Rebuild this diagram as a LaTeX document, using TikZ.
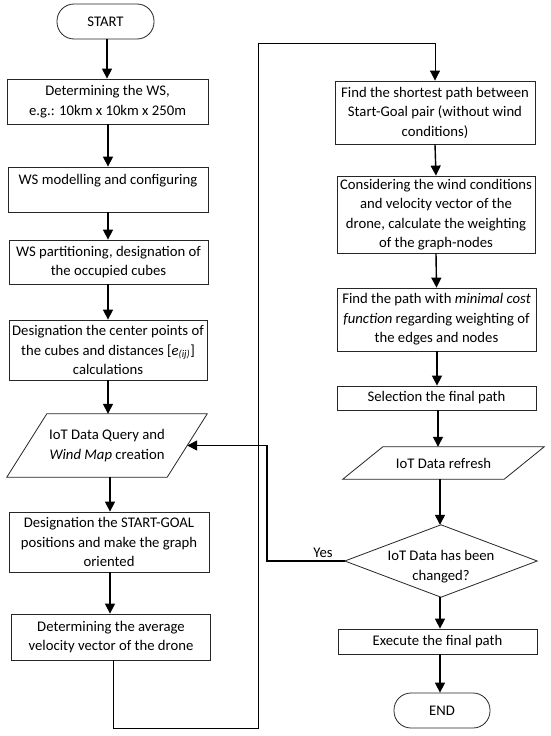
\documentclass[tikz,border=0pt]{standalone}
\usepackage{fontspec}
\setmainfont{Carlito}
\usetikzlibrary{arrows.meta,calc}
\begin{document}
\begin{tikzpicture}[x=1pt,y=-1pt,
  txt/.style={inner sep=0pt, align=center, font=\fontsize{14.7}{19.5}\selectfont},
  box/.style={txt, draw=black!85, line width=0.8pt, rectangle},
  term/.style={box, rounded corners=17pt},
  shapeonly/.style={inner sep=0pt, rectangle},
  arr/.style={line width=1.4pt, -{Triangle[length=10pt,width=10pt]}},
  thinline/.style={line width=0.8pt, draw=black!85},
  loopline/.style={line width=0.8pt}
]
\useasboundingbox (0,0) rectangle (550,736);
\fill[white] (0,0) rectangle (550,736);

% left column
\node[term, minimum width=97pt, minimum height=35pt] (start) at (105.5,21.5) {START};
\node[box, minimum width=201pt, minimum height=45pt] (b1) at (107.5,101.5) {Determining the WS,\\e.g.: 10km x 10km x 250m};
\node[box, minimum width=200pt, minimum height=45pt] (b2) at (108,189.5) {WS modelling and configuring\\\mbox{}};
\node[box, minimum width=199pt, minimum height=44pt] (b3) at (108.5,262) {WS partitioning, designation of\\the occupied cubes};
\node[box, minimum width=198pt, minimum height=60pt] (b4) at (108,350) {Designation the center points of\\the cubes and distances [\textit{e}\textsubscript{\textit{(ij)}}]\\calculations};
\node[txt, shapeonly, minimum width=160pt, minimum height=63pt] (pL) at (107,445.5) {IoT Data Query and\\\textit{Wind Map} creation};
\draw[thinline] ($(pL.north west)+(20,0)$) -- ($(pL.north east)+(20,0)$) -- ($(pL.south east)+(-20,0)$) -- ($(pL.south west)+(-20,0)$) -- cycle;
\node[box, minimum width=200pt, minimum height=60pt] (b5) at (109,542) {Designation the START-GOAL\\positions and make the graph\\oriented};
\node[box, minimum width=199pt, minimum height=46pt] (b6) at (111,637) {Determining the average\\velocity vector of the drone};

% right column
\node[box, minimum width=200pt, minimum height=63pt] (r1) at (435,112.5) {Find the shortest path between\\Start-Goal pair (without wind\\conditions)};
\node[box, minimum width=198pt, minimum height=77pt] (r2) at (436,214.5) {Considering the wind conditions\\and velocity vector of the\\drone, calculate the weighting\\of the graph-nodes};
\node[box, minimum width=199pt, minimum height=63pt] (r3) at (436.5,319.5) {Find the path with \textit{minimal cost}\\\textit{function} regarding weighting of\\the edges and nodes};
\node[box, minimum width=199pt, minimum height=24pt] (r4) at (436.5,398) {Selection the final path};
\node[txt, shapeonly, minimum width=161pt, minimum height=32pt] (pR) at (443.5,463) {IoT Data refresh};
\draw[thinline] ($(pR.north west)+(20,0)$) -- ($(pR.north east)+(20,0)$) -- ($(pR.south east)+(-20,0)$) -- ($(pR.south west)+(-20,0)$) -- cycle;
\node[shapeonly, minimum width=192pt, minimum height=72pt] (dia) at (441,561) {};
\draw[thinline] (dia.north) -- (dia.east) -- (dia.south) -- (dia.west) -- cycle;
\node[txt] (diatext) at (441,566.5) {IoT Data has been\\changed?};
\node[box, minimum width=199pt, minimum height=25pt] (ex) at (437.5,641.5) {Execute the final path};
\node[term, minimum width=96pt, minimum height=35pt] (end) at (442,710.5) {END};
\node[txt] (yes) at (323,553) {Yes};

% arrows left
\draw[arr] (start.south -| 107,0) -- (107,0 |- b1.north);
\draw[arr] (b1.south -| 108,0) -- (108,0 |- b2.north);
\draw[arr] (b2.south -| 108,0) -- (108,0 |- b3.north);
\draw[arr] (b3.south -| 108,0) -- (108,0 |- b4.north);
\draw[arr] (b4.south -| 108,0) -- (108,0 |- pL.north);
\draw[arr] (pL.south -| 110,0) -- (110,0 |- b5.north);
\draw[arr] (b5.south -| 110,0) -- (110,0 |- b6.north);

% loop connector
\coordinate (la) at (258,728);
\coordinate (lb) at (258,43);
\draw[loopline, -{Triangle[length=10pt,width=10pt]}] ([xshift=2pt]b6.south) |- (la) -- (lb) -| (r1.north);

% arrows right
\draw[arr] (r1.south) -- (r2.north);
\draw[arr] (r2.south) -- (r3.north);
\draw[arr] (r3.south -| 437,0) -- (437,0 |- r4.north);
\draw[arr] (r4.south -| 438,0) -- (438,0 |- pR.north);
\draw[arr] (pR.south -| 440,0) -- (440,0 |- dia.north);
\draw[arr] (dia.south -| 440,0) -- (440,0 |- ex.north);
\draw[arr] (ex.south -| 440,0) -- (440,0 |- end.north);

% yes loop
\coordinate (yc) at (267,561);
\draw[arr] (dia.west) -- (yc) |- (pL.east);
\end{tikzpicture}
\end{document}
